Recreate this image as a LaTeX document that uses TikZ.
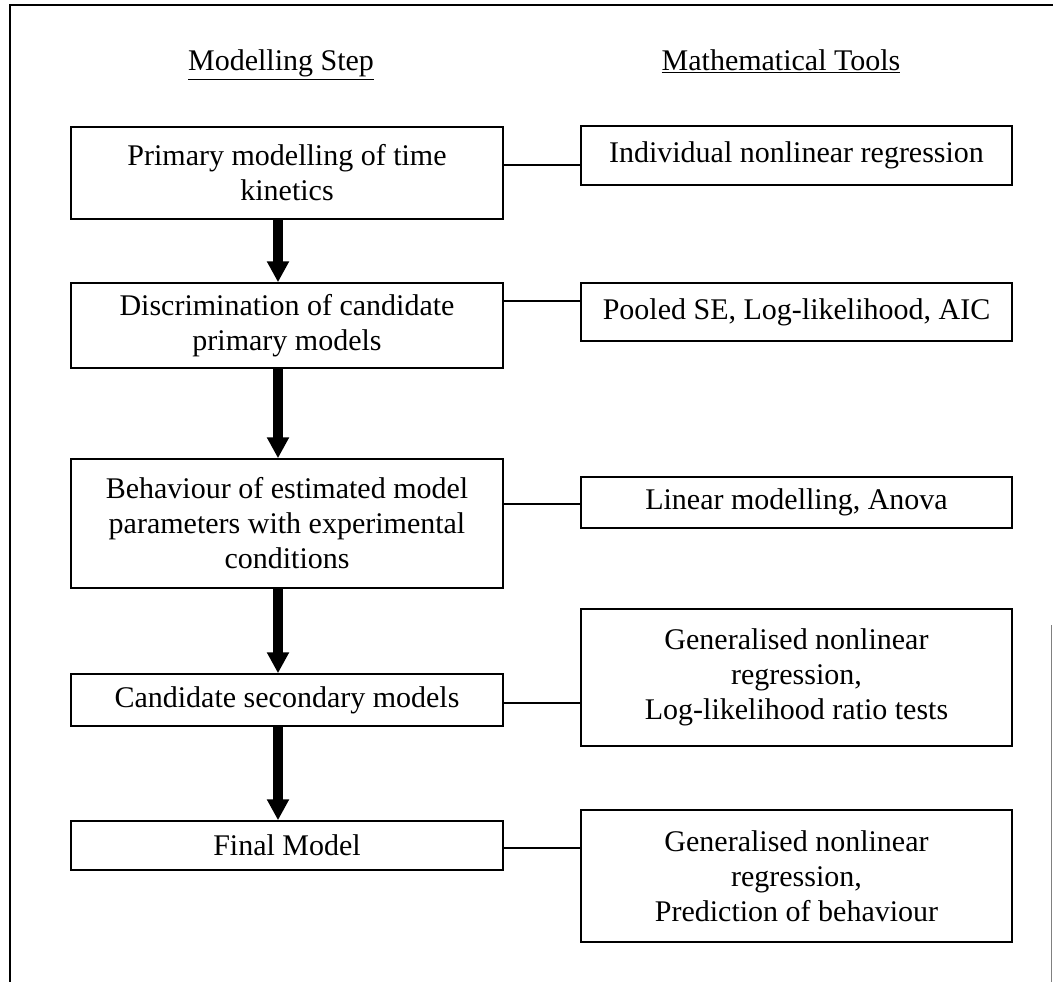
\documentclass[tikz,border=0pt]{standalone}
\usepackage{fontspec}
\setmainfont{Liberation Serif}
\usetikzlibrary{arrows.meta}
\usetikzlibrary{calc}

\tikzset{
  stepbox/.style={draw, line width=1.5pt, minimum width=432pt, inner sep=0pt,
    align=center, font=\fontsize{30}{35}\selectfont},
  toolbox/.style={stepbox, minimum width=431pt},
  heading/.style={anchor=base, font=\fontsize{30}{35}\selectfont},
  flow/.style={line width=10pt, -{Triangle[width=21pt,length=21pt]}},
  link/.style={line width=1.2pt},
}

\begin{document}
\begin{tikzpicture}[x=1pt, y=-1pt]
        \useasboundingbox (0,0) rectangle (1053,982);

        % Frame of the scanned page (only partly visible)
        \draw[line width=1.5pt] (1053,5) -- (10,5) -- (10,982);
        \draw[line width=1pt, gray] (1051,625) -- (1051,982);

        % Column headings
        \node[heading] (hstep) at (281,71) {\underline{Modelling Step}};
        \node[heading] (htool) at (781,71) {\underline{Mathematical Tools}};

        % Modelling steps
        \node[stepbox, minimum height=92pt] (s1) at (287,173) {Primary modelling of time\\kinetics};
        \node[stepbox, minimum height=85pt] (s2) at (287,325.5) {Discrimination of candidate\\primary models};
        \node[stepbox, minimum height=129pt] (s3) at (287,523.5) {Behaviour of estimated model\\parameters with experimental\\conditions};
        \node[stepbox, minimum height=52pt] (s4) at (287,700) {Candidate secondary models};
        \node[stepbox, minimum height=49pt] (s5) at (287,845.5) {Final Model};

        % Mathematical tools
        \node[toolbox, minimum height=59pt] (t1) at (796.5,155.5) {Individual nonlinear regression};
        \node[toolbox, minimum height=58pt] (t2) at (796.5,312) {Pooled SE, Log-likelihood, AIC};
        \node[toolbox, minimum height=51pt] (t3) at (796.5,502.5) {Linear modelling, Anova};
        \node[toolbox, minimum height=137pt] (t4) at (796.5,677.5) {Generalised nonlinear\\regression,\\Log-likelihood ratio tests};
        \node[toolbox, minimum height=132pt] (t5) at (796.5,876) {Generalised nonlinear\\regression,\\Prediction of behaviour};

        % Heights of the links
        \coordinate (k1) at (0,165);
        \coordinate (k2) at (0,301);
        \coordinate (k3) at (0,504);
        \coordinate (k4) at (0,703);
        \coordinate (k5) at (0,848);

        % Links step -> tool
        \draw[link] (s1.east |- k1) -- (t1.west |- k1);
        \draw[link] (s2.east |- k2) -- (t2.west |- k2);
        \draw[link] (s3.east |- k3) -- (t3.west |- k3);
        \draw[link] (s4.east |- k4) -- (t4.west |- k4);
        \draw[link] (s5.east |- k5) -- (t5.west |- k5);

        % Flow arrows
        \coordinate (ax) at (278,0);
        \draw[flow] (s1.south -| ax) -- (s2.north -| ax);
        \draw[flow] (s2.south -| ax) -- (s3.north -| ax);
        \draw[flow] (s3.south -| ax) -- (s4.north -| ax);
        \draw[flow] (s4.south -| ax) -- (s5.north -| ax);
    \end{tikzpicture}
\end{document}
